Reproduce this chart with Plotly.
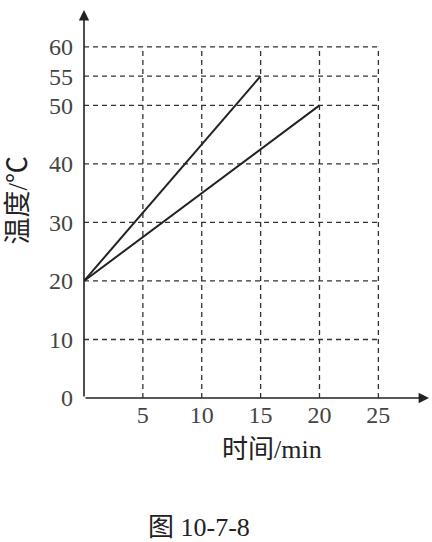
import plotly.graph_objects as go

# data
time_a = [0, 15]
temp_a = [20, 55]
time_b = [0, 20]
temp_b = [20, 50]

x_ticks = [5, 10, 15, 20, 25]
y_ticks = [0, 10, 20, 30, 40, 50, 55, 60]

x_max, y_max = 25, 60
x_end, y_end = 29.3, 66.3   # where the axis arrows stop

font_family = "Liberation Serif, Noto Sans CJK SC, serif"
ink = "#222222"

fig = go.Figure()

for xs, ys in [(time_a, temp_a), (time_b, temp_b)]:
    fig.add_trace(go.Scatter(
        x=xs, y=ys, mode="lines",
        line=dict(color=ink, width=2),
        showlegend=False, hoverinfo="skip"
    ))

# dashed grid, only inside the 25 x 60 box
grid = dict(color="#333333", width=1.3, dash="5px,4px")
for yv in y_ticks[1:]:
    fig.add_shape(type="line", x0=0, x1=x_max, y0=yv, y1=yv, line=grid, layer="below")
for xv in x_ticks:
    fig.add_shape(type="line", x0=xv, x1=xv, y0=0, y1=y_max, line=grid, layer="below")

# axes with arrow heads
for (hx, hy) in [(x_end, 0), (0, y_end)]:
    fig.add_annotation(
        x=hx, y=hy, ax=0, ay=0, xref="x", yref="y", axref="x", ayref="y",
        text="", showarrow=True, arrowhead=2, arrowsize=1.3,
        arrowwidth=1.6, arrowcolor=ink
    )

labels = [
    ("时间/min", 0.545, -0.134, 0, 26),
    ("温度/℃", -0.19, 0.51, -90, 27),
    ("图 10-7-8", 0.334, -0.335, 0, 26),
]
for text, px, py, angle, size in labels:
    fig.add_annotation(text=text, x=px, y=py, xref="paper", yref="paper",
                       xanchor="center", yanchor="middle", textangle=angle,
                       showarrow=False,
                       font=dict(size=size, color=ink, family=font_family))

fig.update_layout(
    width=432, height=542,
    margin=dict(l=84, r=3, t=10, b=144, autoexpand=False),
    plot_bgcolor="white", paper_bgcolor="white",
    font=dict(family=font_family, size=24, color="#444444"),
    xaxis=dict(range=[0, x_end], tickvals=x_ticks, showgrid=False, zeroline=False,
               showline=False, ticks="", ticklabelstandoff=0, automargin=False),
    yaxis=dict(range=[0, y_end], tickvals=y_ticks, showgrid=False, zeroline=False,
               showline=False, ticks="", ticklabelstandoff=10, automargin=False),
)

fig.write_html("out.html", config={"displayModeBar": False},
               post_script="document.body.style.margin='0';")
